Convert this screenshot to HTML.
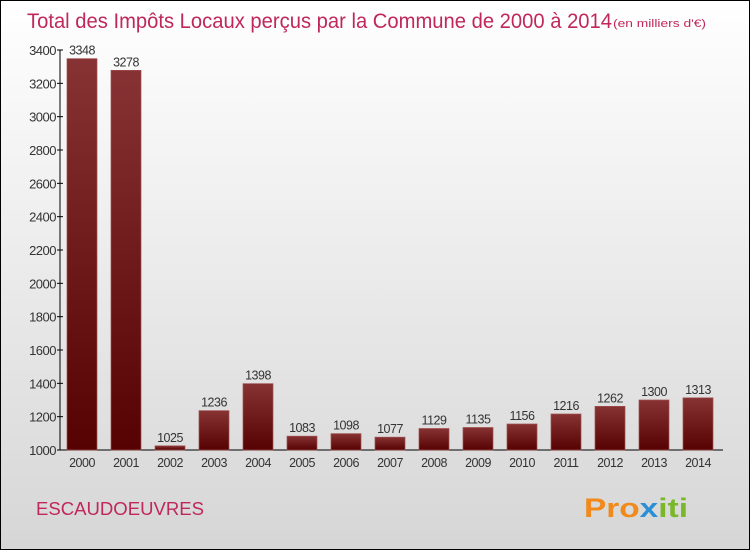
<!DOCTYPE html>
<html><head><meta charset="utf-8"><style>
body{margin:0}
#c{width:748px;height:548px;border:1px solid #000;background:linear-gradient(#fff,#d6d6d6);position:relative;font-family:"Liberation Sans",sans-serif}
</style></head><body>
<div id="c">
<svg id="s" width="748" height="548" style="position:absolute;left:0;top:0">
<defs><linearGradient id="g" x1="0" y1="0" x2="0" y2="1"><stop offset="0" stop-color="#873334"/><stop offset="1" stop-color="#560202"/></linearGradient></defs>
<text x="26" y="27" font-size="21" fill="#c0285a" textLength="585" lengthAdjust="spacingAndGlyphs">Total des Impôts Locaux perçus par la Commune de 2000 à 2014</text>
<text x="612" y="26" font-size="11" fill="#c0285a" textLength="93" lengthAdjust="spacingAndGlyphs">(en milliers d'€)</text>
<text x="35" y="514" font-size="18" fill="#c0285a" textLength="168" lengthAdjust="spacingAndGlyphs">ESCAUDOEUVRES</text>
<text x="583" y="516" font-size="27" font-weight="bold" fill="#f08a1c" textLength="104" lengthAdjust="spacingAndGlyphs">Pro<tspan fill="#2a8fd6">x</tspan><tspan fill="#7ab82a">iti</tspan></text>
<g id="ax"></g><g id="bars"></g>
</svg></div>
<script>
const years=["2000","2001","2002","2003","2004","2005","2006","2007","2008","2009","2010","2011","2012","2013","2014"];
const values=[3348,3278,1025,1236,1398,1083,1098,1077,1129,1135,1156,1216,1262,1300,1313];
const ticks=[1000,1200,1400,1600,1800,2000,2200,2400,2600,2800,3000,3200,3400];
const NS="http://www.w3.org/2000/svg";
const y=v=>449-(v-1000)/6;
const x=i=>81+i*44;
function mk(t,a,p){const e=document.createElementNS(NS,t);for(const k in a)e.setAttribute(k,a[k]);p.appendChild(e);return e;}
const ax=document.getElementById('ax'),bg=document.getElementById('bars');
let l=mk('line',{x1:59,y1:49,x2:59,y2:449,stroke:'#000'},ax);


l=mk('line',{x1:59,y1:449,x2:722,y2:449,stroke:'#000'},ax);


ticks.forEach(t=>{mk('line',{x1:56,x2:62,y1:y(t),y2:y(t),stroke:'#000'},ax);
const e=mk('text',{x:55,y:y(t)+5,'font-size':13,'text-anchor':'end',fill:'#333','letter-spacing':'-0.5'},ax);e.textContent=t;

});
years.forEach((yr,i)=>{
const r=mk('rect',{x:x(i)-15,y:y(values[i]),width:30,height:449-y(values[i]),fill:'url(#g)',stroke:'#a05050','stroke-width':0.7},bg);


let t=mk('text',{x:x(i),y:y(values[i])-4,'font-size':12.5,'text-anchor':'middle',fill:'#333','letter-spacing':'-0.5'},bg);t.textContent=values[i];


t=mk('text',{x:x(i),y:466,'font-size':12.5,'text-anchor':'middle',fill:'#333','letter-spacing':'-0.5'},bg);t.textContent=yr;


});
</script>
</body></html>
